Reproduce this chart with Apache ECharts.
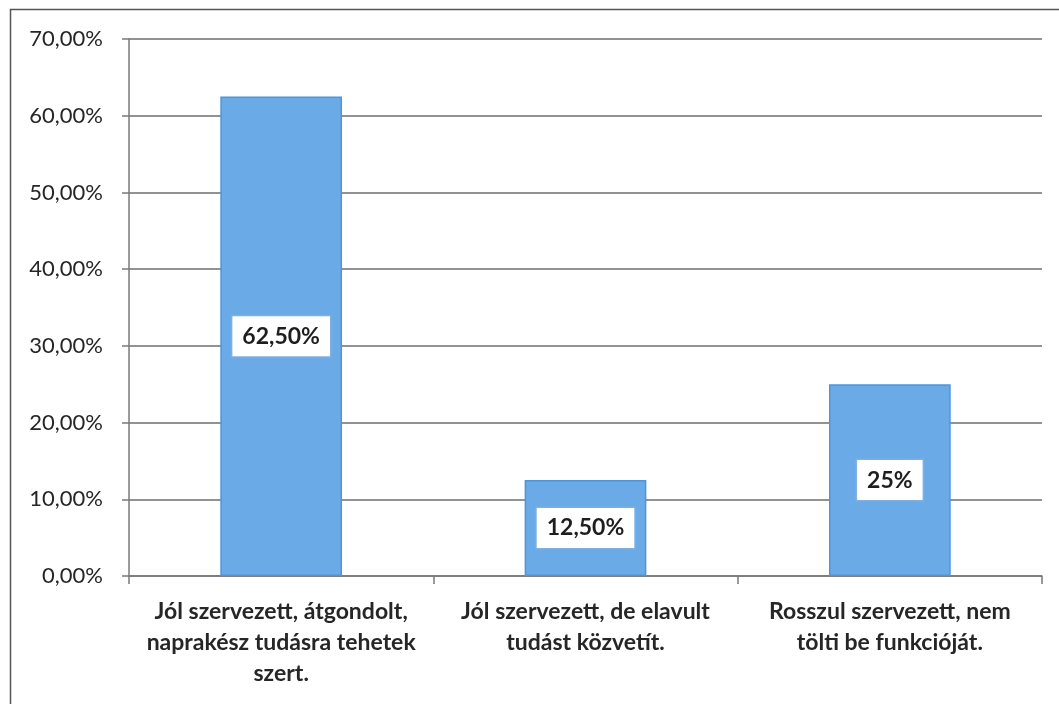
<!DOCTYPE html>
<html>
<head>
<meta charset="utf-8">
<script src="https://cdn.jsdelivr.net/npm/echarts@6/dist/echarts.min.js"></script>
<style>
html,body{margin:0;padding:0;background:#fff;}
#chart{width:1059px;height:704px;}
</style>
</head>
<body>
<div id="chart"></div>
<script>
const categories = [
  'Jól szervezett, átgondolt,\nnaprakész tudásra tehetek\nszert.',
  'Jól szervezett, de elavult\ntudást közvetít.',
  'Rosszul szervezett, nem\ntölti be funkcióját.'
];
const values = [62.5, 12.5, 25];
const valueLabels = ['62,50%', '12,50%', '25%'];
const yMin = 0, yMax = 70, yStep = 10;

const chart = echarts.init(document.getElementById('chart'));
chart.setOption({
  animation: false,
  backgroundColor: '#fff',
  textStyle: { fontFamily: 'Lato, "Open Sans", sans-serif' },
  graphic: [{
    type: 'rect',
    shape: { x: 10.5, y: 9.5, width: 1100, height: 800 },
    style: { fill: 'none', stroke: '#555', lineWidth: 1.5 },
    silent: true
  }],
  grid: { left: 129, right: 17, top: 39, bottom: 128 },
  xAxis: {
    type: 'category',
    data: categories,
    axisLine: { show: true, lineStyle: { color: '#7a7a7a', width: 1.5 } },
    axisTick: { show: true, length: 8, lineStyle: { color: '#7a7a7a', width: 1.5 } },
    axisLabel: {
      color: '#262626', fontSize: 23, fontWeight: 'bold', margin: 20, lineHeight: 31,
      fontFamily: 'Lato, "Open Sans", sans-serif', interval: 0
    }
  },
  yAxis: {
    type: 'value',
    min: yMin, max: yMax, interval: yStep,
    axisLine: { show: true, lineStyle: { color: '#7a7a7a', width: 1.5 } },
    axisTick: { show: true, length: 7, lineStyle: { color: '#7a7a7a', width: 1.5 } },
    splitLine: { show: true, lineStyle: { color: '#6e6e6e', width: 1.5 } },
    axisLabel: {
      color: '#262626', fontSize: 22, margin: 26,
      formatter: v => v.toFixed(2).replace('.', ',') + '%'
    }
  },
  series: [{
    type: 'bar',
    data: values,
    barWidth: '40%',
    itemStyle: { color: '#6aaae6', borderColor: '#4f95dc', borderWidth: 1.5 },
    label: {
      show: true, position: 'inside',
      formatter: p => valueLabels[p.dataIndex],
      color: '#1e1e1e', fontSize: 23, fontWeight: 'bold',
      backgroundColor: '#fff', borderColor: '#7fb0e0', borderWidth: 1.5,
      padding: [9, 10, 8, 10]
    }
  }]
});
</script>
</body>
</html>
